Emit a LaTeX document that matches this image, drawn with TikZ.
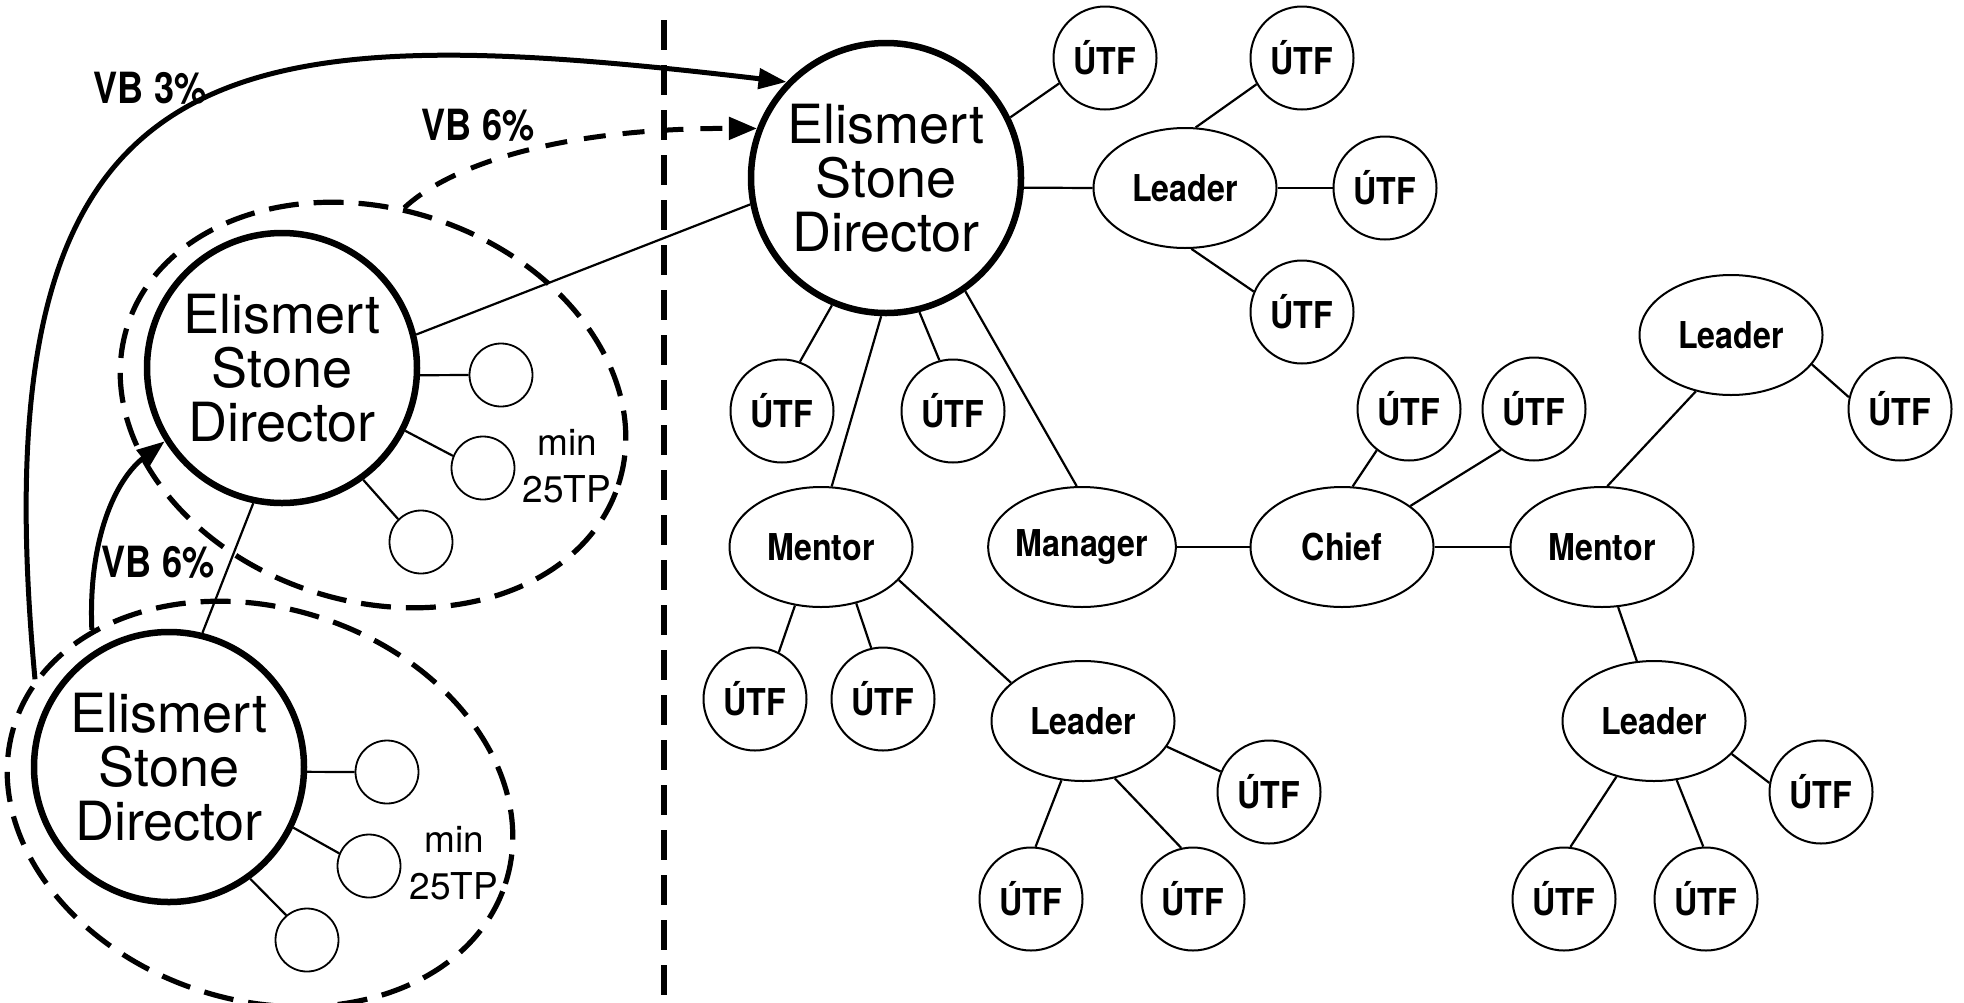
\documentclass[tikz,border=0pt]{standalone}
\usepackage{fontspec}
\setmainfont{TeX Gyre Heros}
\newfontfamily\condfont[FakeStretch=0.87]{TeX Gyre Heros}
\newfontfamily\vbfont[FakeStretch=0.84]{TeX Gyre Heros}
\usetikzlibrary{shapes.geometric,arrows.meta}
\begin{document}
\begin{tikzpicture}[x=1pt,y=-1pt,
  dir/.style={circle,draw,line width=6.5pt,minimum size=270pt,inner sep=0pt,align=center,
    font=\fontsize{54}{54}\selectfont},
  utf/.style={circle,draw,line width=2pt,minimum size=103pt,inner sep=0pt,
    font=\condfont\bfseries\fontsize{37}{37}\selectfont},
  role/.style={ellipse,draw,line width=2pt,minimum width=183pt,minimum height=120pt,inner sep=0pt,
    font=\condfont\bfseries\fontsize{37}{37}\selectfont},
  small/.style={circle,draw,line width=1.8pt,minimum size=63pt,inner sep=0pt},
  grp/.style={ellipse,draw,line width=5.2pt,dash pattern=on 30pt off 15pt,minimum width=516pt,minimum height=392pt,inner sep=0pt},
  ln/.style={line width=2.2pt},
  dsh/.style={line width=5.2pt,dash pattern=on 30pt off 15pt},
  arr/.style={line width=5pt,-{Triangle[length=28pt,width=20pt]}},
  darr/.style={line width=5pt,dash pattern=on 22pt off 17pt,-{Triangle[length=28pt,width=22pt]}},
  lab/.style={inner sep=0pt,font=\vbfont\bfseries\fontsize{43}{43}\selectfont},
  tp/.style={inner sep=0pt,align=center,font=\fontsize{37}{47}\selectfont}
]
\path[fill=white,use as bounding box] (0,0) rectangle (1964,1002);

% separator
\coordinate (vtop) at (664,20);
\coordinate (vbot) at (664,1010);
\draw[dsh] (vtop) -- (vbot);

% left groups
\node[grp,rotate=-18] (E2) at (373,405) {};
\node[grp,rotate=-18] (E3) at (260,804) {};
\node[dir] (D2) at (282,368) {Elismert\\Stone\\Director};
\node[dir] (D3) at (169,767) {Elismert\\Stone\\Director};
\node[small] (c1) at (501,375) {};
\node[small] (c2) at (483,468) {};
\node[small] (c3) at (421,542) {};
\node[small] (c4) at (387,772) {};
\node[small] (c5) at (369,866) {};
\node[small] (c6) at (307,940) {};
\node[tp] (t2) at (567,466) {min\\25TP};
\node[tp] (t3) at (454,863) {min\\25TP};

% main director
\node[dir] (M) at (886,178) {Elismert\\Stone\\Director};

% right tree
\node[utf] (U1) at (1105,58) {ÚTF};
\node[utf] (U2) at (1302,58) {ÚTF};
\node[role] (L1) at (1185,188) {Leader};
\node[utf] (U3) at (1385,188) {ÚTF};
\node[utf] (U4) at (1302,312) {ÚTF};
\node[utf] (U5) at (782,411) {ÚTF};
\node[utf] (U6) at (953,411) {ÚTF};
\node[role] (Me1) at (821,547) {Mentor};
\node[role] (Ma) at (1082,547) {Manager};
\node[role] (Ch) at (1342,547) {Chief};
\node[role] (Me2) at (1602,547) {Mentor};
\node[utf] (U7) at (1409,409) {ÚTF};
\node[utf] (U8) at (1534,409) {ÚTF};
\node[role] (L2) at (1731,335) {Leader};
\node[utf] (U9) at (1900,409) {ÚTF};
\node[role] (L3) at (1654,721) {Leader};
\node[utf] (U10) at (1821,792) {ÚTF};
\node[utf] (U11) at (1564,899) {ÚTF};
\node[utf] (U12) at (1706,899) {ÚTF};
\node[utf] (U13) at (755,699) {ÚTF};
\node[utf] (U14) at (883,699) {ÚTF};
\node[role] (L4) at (1083,721) {Leader};
\node[utf] (U15) at (1269,792) {ÚTF};
\node[utf] (U16) at (1031,899) {ÚTF};
\node[utf] (U17) at (1193,899) {ÚTF};

% left connectors
\draw[ln] (D2.14) -- (M.191);
\draw[ln] (D2.258) -- (D3.76);
\draw[ln] (D2.-3) -- (c1.west);
\draw[ln] (D2.333) -- (c2.158);
\draw[ln] (D2.306) -- (c3.135);
\draw[ln] (D3.-2) -- (c4.west);
\draw[ln] (D3.334) -- (c5.157);
\draw[ln] (D3.306) -- (c6.130);

% right connectors
\draw[ln] (M.26) -- (U1.209);
\draw[ln] (M.-4) -- (L1.west);
\draw[ln] (L1.80) -- (U2.210);
\draw[ln] (L1.east) -- (U3.west);
\draw[ln] (L1.276) -- (U4.157);
\draw[ln] (M.247) -- (U5.70);
\draw[ln] (M.284) -- (U6.105);
\draw[ln] (M.268) -- (Me1.80);
\draw[ln] (M.305) -- (Ma.95);
\draw[ln] (Ma.east) -- (Ch.west);
\draw[ln] (Ch.80) -- (U7.232);
\draw[ln] (Ch.31) -- (U8.231);
\draw[ln] (Ch.east) -- (Me2.west);
\draw[ln] (Me2.85) -- (L2.238);
\draw[ln] (L2.340) -- (U9.167);
\draw[ln] (Me2.285) -- (L3.106);
\draw[ln] (L3.337) -- (U10.170);
\draw[ln] (L3.236) -- (U11.83);
\draw[ln] (L3.291) -- (U12.93);
\draw[ln] (Me1.246) -- (U13.63);
\draw[ln] (Me1.302) -- (U14.103);
\draw[ln] (Me1.337) -- (L4.152);
\draw[ln] (L4.343) -- (U15.157);
\draw[ln] (L4.250) -- (U16.85);
\draw[ln] (L4.299) -- (U17.103);

% arrows
\draw[arr] (E3.169) .. controls (-25,40) and (220,15) .. (M.136);
\draw[darr] (E2.99) .. controls (450,165) and (560,128) .. (M.159);
\draw[arr] (E3.152) .. controls (88,540) and (115,480) .. (D2.212);

\node[lab] (vb3) at (150,88) {VB 3\%};
\node[lab] (vb6a) at (478,125) {VB 6\%};
\node[lab] (vb6b) at (158,562) {VB 6\%};
\end{tikzpicture}
\end{document}
